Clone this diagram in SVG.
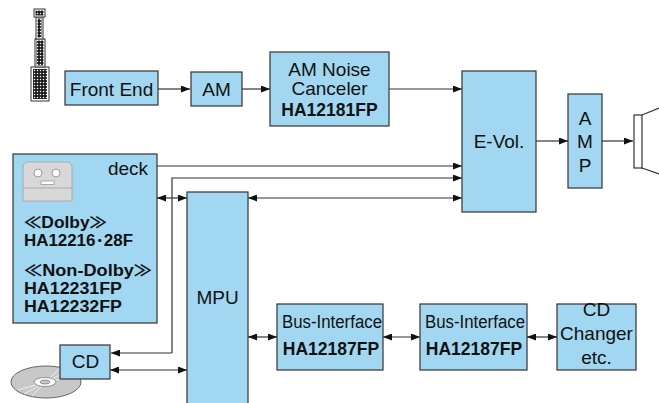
<svg xmlns="http://www.w3.org/2000/svg" width="659" height="403" viewBox="0 0 659 403">
  <style>
    .box { fill: #a2d7f2; stroke: #333; stroke-width: 1.2; }
    .t { font-family: "Liberation Sans", Arial, sans-serif; font-size: 19px; fill: #111; text-anchor: middle; }
    .b { font-family: "Liberation Sans", Arial, "Noto Sans CJK JP", sans-serif; font-size: 17.5px; font-weight: bold; fill: #111; }
    .bd { font-size: 16px; }
    .bc { text-anchor: middle; }
    .w { stroke: #333; stroke-width: 1.2; fill: none; }
    .arr { stroke: #333; stroke-width: 1.2; fill: none; marker-end: url(#ah); }
    .arr2 { stroke: #333; stroke-width: 1.2; fill: none; marker-end: url(#ah); marker-start: url(#ah); }
  </style>
  <defs>
    <marker id="ah" markerUnits="userSpaceOnUse" markerWidth="9" markerHeight="7" refX="9" refY="3.5" orient="auto-start-reverse">
      <path d="M0,0 L9,3.5 L0,7 z" fill="#111"/>
    </marker>
    <pattern id="dots" width="3" height="3" patternUnits="userSpaceOnUse">
      <rect width="3" height="3" fill="#111"/>
      <rect x="0.8" y="0.8" width="1.4" height="1.4" fill="#fff"/>
    </pattern>
  </defs>

  <rect width="659" height="403" fill="#fff"/>

  <!-- antenna -->
  <g id="antenna">
    <rect x="31" y="67" width="18" height="34" fill="#fff" stroke="#333"/>
    <rect x="33" y="69" width="14" height="30" fill="url(#dots)"/>
    <rect x="35" y="39" width="10" height="28" fill="#fff" stroke="#333"/>
    <rect x="36.5" y="40.5" width="7" height="25" fill="url(#dots)"/>
    <rect x="36" y="17" width="7" height="22" fill="#fff" stroke="#333"/>
    <rect x="37.5" y="18.5" width="4" height="19" fill="url(#dots)"/>
    <rect x="34" y="9" width="11" height="8" fill="#fff" stroke="#333"/>
    <rect x="35.5" y="10.5" width="8" height="5" fill="url(#dots)"/>
  </g>

  <!-- connectors -->
  <g id="connectors">
    <line class="arr" x1="158" y1="89" x2="190" y2="89"/>
    <line class="arr" x1="242" y1="89" x2="270" y2="89"/>
    <line class="arr" x1="389" y1="89" x2="462" y2="89"/>
    <line class="arr" x1="536" y1="141" x2="568" y2="141"/>
    <line class="arr" x1="602" y1="141" x2="633" y2="141"/>
    <line class="arr" x1="157" y1="166" x2="462" y2="166"/>
    <polyline class="arr" points="172,353 172,178 462,178"/>
    <line class="arr" x1="172" y1="353" x2="111" y2="353"/>
    <line class="arr2" x1="248" y1="198" x2="462" y2="198"/>
    <line class="arr2" x1="157" y1="198" x2="187" y2="198"/>
    <line class="arr2" x1="110" y1="370" x2="187" y2="370"/>
    <line class="arr2" x1="248" y1="337" x2="277" y2="337"/>
    <line class="arr2" x1="383" y1="337" x2="420" y2="337"/>
    <line class="arr2" x1="527" y1="337" x2="557" y2="337"/>
  </g>

  <g id="front-end">
    <rect class="box" x="65" y="71" width="93" height="34"/>
    <text class="t" x="111.5" y="96">Front End</text>
  </g>

  <g id="am">
    <rect class="box" x="191" y="72" width="51" height="34"/>
    <text class="t" x="216.5" y="96">AM</text>
  </g>

  <g id="am-noise-canceler">
    <rect class="box" x="270" y="52" width="119" height="74"/>
    <text class="t" x="329.5" y="76">AM Noise</text>
    <text class="t" x="329.5" y="95">Canceler</text>
    <text class="b bc" x="329.5" y="116">HA12181FP</text>
  </g>

  <g id="e-vol">
    <rect class="box" x="462" y="71" width="74" height="141"/>
    <text class="t" x="499" y="148">E-Vol.</text>
  </g>

  <g id="amp">
    <rect class="box" x="568" y="94" width="34" height="94"/>
    <text class="t" x="585" y="125">A</text>
    <text class="t" x="585" y="148">M</text>
    <text class="t" x="585" y="172">P</text>
  </g>

  <g id="speaker">
    <rect x="634" y="115" width="8" height="53" fill="#fff" stroke="#333" stroke-width="1.2"/>
    <line class="w" x1="642" y1="115" x2="659" y2="108"/>
    <line class="w" x1="642" y1="168" x2="659" y2="174"/>
  </g>

  <g id="deck">
    <rect class="box" x="13" y="154" width="144" height="169"/>
    <path d="M23,201 V167 a5,5 0 0 1 5,-5 H67 a5,5 0 0 1 5,5 V201 z" fill="#d8d8d8" stroke="#aaa" stroke-width="1"/>
    <line x1="23" y1="188" x2="72" y2="188" stroke="#aaa" stroke-width="1"/>
    <circle cx="38" cy="173" r="4" fill="#fff" stroke="#999"/>
    <circle cx="56" cy="173" r="4" fill="#fff" stroke="#999"/>
    <rect x="41" y="181" width="13" height="3.5" fill="#fff" stroke="#999" stroke-width="0.8"/>
    <text class="t" x="128" y="175">deck</text>
    <text class="b bd" x="24" y="228" textLength="83" lengthAdjust="spacingAndGlyphs">≪Dolby≫</text>
    <text class="b bd" x="24" y="246" textLength="109" lengthAdjust="spacingAndGlyphs">HA12216･28F</text>
    <text class="b bd" x="24" y="276" textLength="128" lengthAdjust="spacingAndGlyphs">≪Non-Dolby≫</text>
    <text class="b bd" x="24" y="294" textLength="98" lengthAdjust="spacingAndGlyphs">HA12231FP</text>
    <text class="b bd" x="24" y="312" textLength="98" lengthAdjust="spacingAndGlyphs">HA12232FP</text>
  </g>

  <g id="mpu">
    <rect class="box" x="187" y="192" width="61" height="220"/>
    <text class="t" x="217.5" y="304">MPU</text>
  </g>

  <g id="cd-disc">
    <ellipse cx="46" cy="382" rx="35" ry="16" fill="#c8c8c8" stroke="#666" stroke-width="1"/>
    <g stroke="#eee" stroke-width="1">
      <line x1="46" y1="382" x2="70" y2="370"/>
      <line x1="46" y1="382" x2="76" y2="376"/>
      <line x1="46" y1="382" x2="24" y2="394"/>
      <line x1="46" y1="382" x2="18" y2="390"/>
      <line x1="46" y1="382" x2="60" y2="368"/>
      <line x1="46" y1="382" x2="32" y2="396"/>
    </g>
    <ellipse cx="45" cy="382" rx="11" ry="4.5" fill="#fff" stroke="#777" stroke-width="0.8"/>
    <ellipse cx="45" cy="382" rx="5" ry="2" fill="#c8c8c8" stroke="#777" stroke-width="0.8"/>
  </g>

  <g id="cd">
    <rect class="box" x="60" y="345" width="50" height="34"/>
    <text class="t" x="85.5" y="368">CD</text>
  </g>

  <g id="bus-interface-1">
    <rect class="box" x="277" y="304" width="106" height="66"/>
    <text class="t" x="332" y="328" style="font-size:18px" textLength="100" lengthAdjust="spacingAndGlyphs">Bus-Interface</text>
    <text class="b bc" x="331" y="355">HA12187FP</text>
  </g>

  <g id="bus-interface-2">
    <rect class="box" x="420" y="304" width="107" height="66"/>
    <text class="t" x="475" y="328" style="font-size:18px" textLength="100" lengthAdjust="spacingAndGlyphs">Bus-Interface</text>
    <text class="b bc" x="474" y="355">HA12187FP</text>
  </g>

  <g id="cd-changer">
    <rect class="box" x="557" y="304" width="79" height="66"/>
    <text class="t" x="596.5" y="316">CD</text>
    <text class="t" x="596.5" y="340">Changer</text>
    <text class="t" x="596.5" y="364">etc.</text>
  </g>
</svg>
